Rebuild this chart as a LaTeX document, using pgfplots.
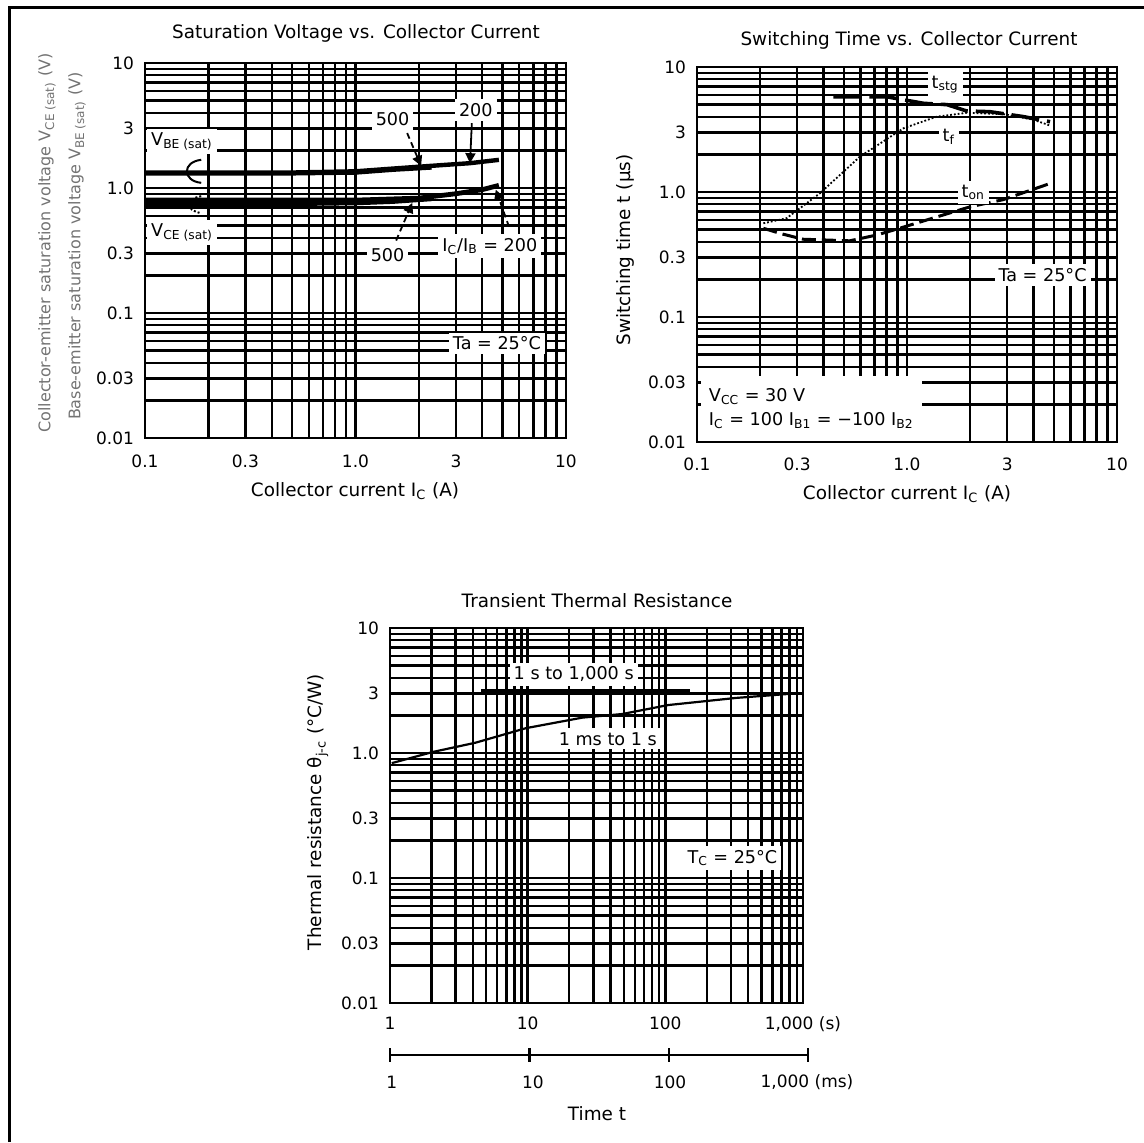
\documentclass[border=0pt]{standalone}
\usepackage{fontspec}
\setmainfont{DejaVu Sans}
\usepackage{pgfplots}
\pgfplotsset{compat=1.18}
\usetikzlibrary{arrows.meta}
\newcommand{\tf}{\fontsize{9.2}{11}\selectfont}
\newcommand{\af}{\fontsize{8.8}{12}\selectfont}
\pgfplotsset{
 dsgrid/.style={
  scale only axis, anchor=south west,
  ymin=0.01, ymax=10, height=187.5pt,
  ytick={0.01,0.03,0.1,0.3,1,3,10},
  yticklabels={0.01,0.03,0.1,0.3,1.0,3,10},
  minor ytick={0.02,0.04,0.05,0.06,0.07,0.08,0.09,0.2,0.4,0.5,0.6,0.7,0.8,0.9,2,4,5,6,7,8,9},
  grid=both,
  major grid style={line width=1.2pt, black},
  minor grid style={line width=1.2pt, black},
  axis line style={line width=1.2pt, black},
  major tick length=0pt, minor tick length=0pt,
  tick label style={font=\fontsize{8.5}{10}\selectfont},
  yticklabel style={xshift=-2pt},
  clip=false,
 },
}
\tikzset{lbl/.style={fill=white, inner sep=2pt, font=\af}}
\begin{document}
\begin{tikzpicture}
\path[use as bounding box] (0pt,0pt) rectangle (572pt,-571pt);

% ---------------- Plot 1 ----------------
\begin{loglogaxis}[dsgrid, at={(72.5pt,-219pt)}, width=210.5pt, xmin=0.1, xmax=10,
  xtick={0.1,0.3,1,3,10}, xticklabels={0.1,0.3,1.0,3,10},
  minor xtick={0.2,0.4,0.5,0.6,0.7,0.8,0.9,2,4,5,6,7,8,9},
  xticklabel style={yshift=-5pt}]
\addplot[line width=2.2pt] coordinates {(0.1,1.31) (0.5,1.31) (1,1.33) (1.5,1.40) (2.3,1.46)};
\addplot[line width=2.2pt] coordinates {(0.1,1.33) (0.5,1.33) (1,1.36) (1.5,1.43) (2.5,1.52) (3.5,1.58) (4.8,1.68)};
\addplot[line width=2.4pt] coordinates {(0.1,0.75) (0.5,0.75) (1,0.76) (1.5,0.78) (2.3,0.82)};
\addplot[line width=2.4pt] coordinates {(0.1,0.80) (0.5,0.80) (1,0.80) (2,0.83) (3,0.90) (4,0.97) (4.8,1.05)};
\node[lbl, anchor=west] at (axis cs:0.102,2.35) {V\textsubscript{BE (sat)}};
\node[lbl, anchor=west] at (axis cs:0.102,0.44) {V\textsubscript{CE (sat)}};
\draw[line width=1pt] (axis cs:0.185,1.68) .. controls (axis cs:0.15,1.62) and (axis cs:0.15,1.14) .. (axis cs:0.185,1.10);
\draw[line width=1pt, densely dotted] (axis cs:0.185,0.86) .. controls (axis cs:0.155,0.82) and (axis cs:0.155,0.66) .. (axis cs:0.185,0.63);
\node[lbl] at (axis cs:1.5,3.56) {500};
\node[lbl] at (axis cs:3.73,4.21) {200};
\node[lbl] at (axis cs:1.42,0.291) {500};
\node[lbl] at (axis cs:4.35,0.343) {I\textsubscript{C}/I\textsubscript{B} = 200};
\node[lbl] at (axis cs:4.7,0.057) {Ta = 25°C};
\draw[line width=0.9pt, densely dashed, -{Triangle[length=5pt,width=5pt]}] (axis cs:1.76,2.75) -- (axis cs:2.05,1.5);
\draw[line width=0.9pt, -{Triangle[length=5pt,width=5pt]}] (axis cs:3.57,3.3) -- (axis cs:3.5,1.58);
\draw[line width=0.9pt, densely dashed, -{Triangle[length=5pt,width=5pt]}] (axis cs:1.56,0.38) -- (axis cs:1.86,0.76);
\draw[line width=0.9pt, densely dashed, -{Triangle[length=5pt,width=5pt]}] (axis cs:5.36,0.49) -- (axis cs:4.64,0.97);
\end{loglogaxis}

% ---------------- Plot 2 ----------------
\begin{loglogaxis}[dsgrid, at={(348.5pt,-221pt)}, width=210pt, xmin=0.1, xmax=10,
  xtick={0.1,0.3,1,3,10}, xticklabels={0.1,0.3,1.0,3,10},
  minor xtick={0.2,0.4,0.5,0.6,0.7,0.8,0.9,2,4,5,6,7,8,9},
  xticklabel style={yshift=-4.5pt}]
\addplot[line width=1.8pt, dash pattern=on 14pt off 4pt] coordinates {(0.446,5.78) (0.8,5.78) (1.2,5.12) (1.55,5.0) (1.92,4.45) (2.48,4.39) (3.58,4.01) (4.8,3.65)};
\addplot[line width=0.9pt, densely dotted] coordinates {(0.207,0.562) (0.267,0.617) (0.385,0.977) (0.597,1.92) (0.96,3.23) (1.38,4.0) (1.92,4.3) (2.88,4.2) (3.98,3.8) (4.8,3.4)};
\addplot[line width=1.5pt, dash pattern=on 7pt off 3pt] coordinates {(0.207,0.513) (0.248,0.467) (0.32,0.419) (0.534,0.407) (0.718,0.453) (0.923,0.513) (1.24,0.597) (2.0,0.762) (2.88,0.87) (4.8,1.17)};
\node[lbl] at (axis cs:1.52,7.24) {t\textsubscript{stg}};
\node[lbl] at (axis cs:1.58,2.75) {t\textsubscript{f}};
\node[lbl] at (axis cs:2.07,0.99) {t\textsubscript{on}};
\node[lbl] at (axis cs:4.42,0.217) {Ta = 25°C};
\node[lbl, anchor=south west, align=left, inner xsep=4pt, inner ysep=6pt] at (axis cs:0.104,0.0102) {V\textsubscript{CC} = 30 V\\I\textsubscript{C} = 100 I\textsubscript{B1} = −100 I\textsubscript{B2}};
\end{loglogaxis}

% ---------------- Plot 3 ----------------
\begin{loglogaxis}[dsgrid, at={(195pt,-501.5pt)}, width=206.5pt, xmin=1, xmax=1000,
  xtick={1,10,100,1000}, xticklabels={1,10,100,{1,000 (s)}},
  minor xtick={2,3,4,5,6,7,8,9,20,30,40,50,60,70,80,90,200,300,400,500,600,700,800,900},
  xticklabel style={yshift=-3.5pt}]
\addplot[line width=2.2pt] coordinates {(4.6,3.15) (150,3.15)};
\addplot[line width=1.1pt] coordinates {(1.03,0.83) (2.05,1.02) (4.19,1.21) (9.7,1.58) (25,1.92) (48.5,2.05) (105,2.42) (328,2.76) (853,2.99)};
\node[lbl] at (axis cs:21.6,4.25) {1 s to 1,000 s};
\node[lbl] at (axis cs:38.2,1.3) {1 ms to 1 s};
\node[lbl] at (axis cs:307,0.1445) {T\textsubscript{C} = 25°C};
\end{loglogaxis}

% ---------------- texts and frame ----------------
\begin{scope}[x=0.5pt,y=-0.5pt]
\draw[line width=1.5pt] (9,1142) -- (9,7) -- (1144,7);
\node[font=\tf] at (356,33) {Saturation Voltage vs. Collector Current};
\node[font=\tf] at (355,491) {Collector current I\textsubscript{C} (A)};
\node[font=\fontsize{8}{10}\selectfont, text=black!55, rotate=90] at (47,243) {Collector-emitter saturation voltage V\textsubscript{CE (sat)} (V)};
\node[font=\fontsize{8}{10}\selectfont, text=black!55, rotate=90] at (77,246) {Base-emitter saturation voltage V\textsubscript{BE (sat)} (V)};
\node[font=\tf] at (909,40) {Switching Time vs. Collector Current};
\node[font=\tf] at (907,494) {Collector current I\textsubscript{C} (A)};
\node[font=\tf, rotate=90] at (625,250) {Switching time t (μs)};
\node[font=\tf] at (597,601) {Transient Thermal Resistance};
\node[font=\tf, rotate=90] at (318,812) {Thermal resistance θ\textsubscript{j-c} (°C/W)};
\draw[line width=1.2pt] (390,1055) -- (808,1055);
\foreach \xx in {390,529.3,668.7,808} \draw[line width=1.2pt] (\xx,1048) -- (\xx,1062);
\node[font=\fontsize{8.5}{10}\selectfont] at (391.8,1082) {1};
\node[font=\fontsize{8.5}{10}\selectfont] at (532.9,1082) {10};
\node[font=\fontsize{8.5}{10}\selectfont] at (670,1082) {100};
\node[font=\fontsize{8.5}{10}\selectfont] at (807,1082) {1,000 (ms)};
\node[font=\tf] at (597,1114) {Time t};
\end{scope}
\end{tikzpicture}
\end{document}
